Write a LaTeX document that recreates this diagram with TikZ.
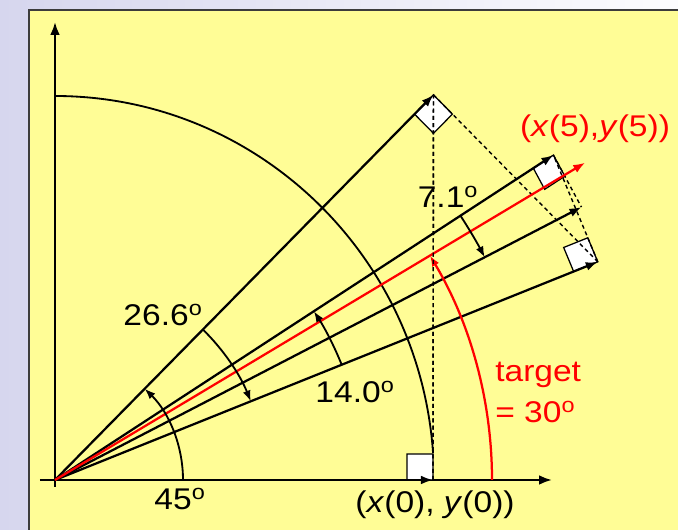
\documentclass[tikz,border=0pt]{standalone}
\usepackage{fontspec}
\setmainfont{Liberation Sans}[FakeStretch=1.12]
\usetikzlibrary{arrows.meta,calc}
\definecolor{slideyellow}{RGB}{255,253,150}
\definecolor{slideedge}{RGB}{60,60,60}
\definecolor{slidelilac}{RGB}{214,214,238}
\definecolor{targetred}{RGB}{255,0,0}

\begin{document}
\begin{tikzpicture}[x=0.025cm,y=0.025cm,
  axis/.style={draw=black,line width=1.6pt,-{Latex[length=0.32cm,width=0.24cm]}},
  vec/.style={draw=black,line width=1.6pt,-{Latex[length=0.3cm,width=0.22cm]}},
  redvec/.style={draw=targetred,line width=1.6pt,-{Latex[length=0.3cm,width=0.22cm]}},
  angarc/.style={draw=black,line width=1.3pt,-{Latex[length=0.27cm,width=0.2cm]}},
  proj/.style={draw=black,line width=1pt,dash pattern=on 0.1cm off 0.08cm},
  rsq/.style={draw=black,fill=white,line width=0.9pt},
  lbl/.style={font=\fontsize{21.3}{25}\selectfont,inner sep=0pt}
]
  \useasboundingbox (-55,-50) rectangle (623,480);
  % Slide background
  \shade[left color=slidelilac,right color=white!94!slidelilac] (-55,-50) rectangle (623,480);
  \fill[slideyellow] (-26,-60) rectangle (630,470);
  \draw[slideedge,line width=1.4pt] (-26,-60) -- (-26,470) -- (630,470);

  % Vector tips
  \coordinate (O) at (0,0);
  \coordinate (P0) at (378,0);
  \coordinate (P1) at (45.5:540);
  \coordinate (P2) at (21.9:585);
  \coordinate (P3) at (33.1:595);
  \coordinate (P4) at (27.4:593);
  \coordinate (R) at (30.9:618);

  % Axes and unit circle
  \draw[axis] (-15,0) -- (497,0);
  \draw[axis] (0,-7) -- (0,458);
  \draw[line width=1.3pt] (0,384) arc[start angle=90,end angle=4,x radius=379,y radius=384];

  % Right angle marks
  \foreach \p/\q/\s in {P0/P1/0.65cm, P1/P2/0.675cm, P2/P3/0.65cm, P3/P4/0.6cm} {
    \coordinate (a) at ($(\p)!\s!(O)$);
    \coordinate (b) at ($(\p)!\s!(\q)$);
    \draw[rsq] (\p) -- (a) -- ($(a)+(b)-(\p)$) -- (b) -- cycle;
  }

  % Rotation steps
  \foreach \a/\b in {P0/P1, P1/P2, P2/P3, P3/P4}
    \draw[proj] (\a) -- (\b);

  % Vectors
  \foreach \p in {P0,P1,P2,P3,P4}
    \draw[vec] (O) -- (\p);
  \draw[redvec] (O) -- (R);

  % Angles
  \draw[angarc] (0:128) arc[start angle=0,end angle=45.5,radius=128];
  \draw[angarc] (45.5:211) arc[start angle=45.5,end angle=21.9,radius=211];
  \draw[angarc] (21.9:309) arc[start angle=21.9,end angle=33.1,radius=309];
  \draw[angarc] (33.1:484) arc[start angle=33.1,end angle=27.4,radius=484];
  \draw[angarc,draw=targetred,line width=1.6pt] (0:437) arc[start angle=0,end angle=30.9,radius=437];

  % Labels
  \node[lbl] (l45) at (125,-19) {45\textsuperscript{o}};
  \node[lbl] (l266) at (108,165) {26.6\textsuperscript{o}};
  \node[lbl] (l140) at (300,88) {14.0\textsuperscript{o}};
  \node[lbl] (l71) at (393,283) {7.1\textsuperscript{o}};
  \draw[proj] (P0) -- (P1);
  \node[lbl] (start) at (380,-25) {(\textit{x}(0), \textit{y}(0))};
  \node[lbl,text=targetred] (final) at (540,351) {(\textit{x}(5),\textit{y}(5))};
  \node[lbl,text=targetred,anchor=base west] (tgt) at (440,98) {target};
  \node[lbl,text=targetred,anchor=base west] (tgtval) at (440,57) {= 30\textsuperscript{o}};
\end{tikzpicture}
\end{document}
